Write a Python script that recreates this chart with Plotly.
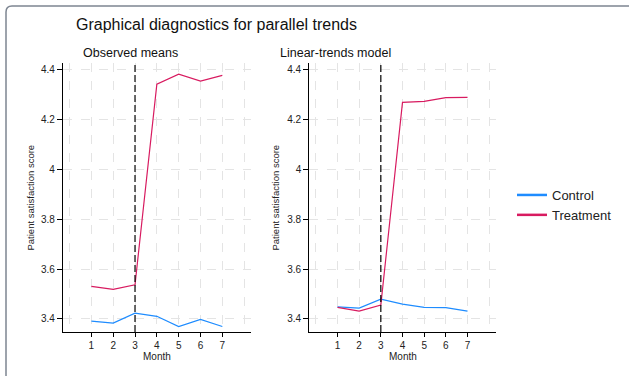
import plotly.graph_objects as go

months = [1, 2, 3, 4, 5, 6, 7]
obs_control = [3.391, 3.383, 3.423, 3.410, 3.369, 3.398, 3.369]
obs_treatment = [3.530, 3.518, 3.537, 4.343, 4.383, 4.355, 4.378]
lin_control = [3.448, 3.443, 3.479, 3.459, 3.446, 3.445, 3.431]
lin_treatment = [3.446, 3.431, 3.455, 4.270, 4.274, 4.289, 4.290]
y_tickvals = [3.4, 3.6, 3.8, 4.0, 4.2, 4.4]
y_ticktext = ["3.4", "3.6", "3.8", "4", "4.2", "4.4"]
x_ticktext = ["1", "2", "3", "4", "5", "6", "7"]
treatment_start = 3
main_title = "Graphical diagnostics for parallel trends"
panel_titles = ["Observed means", "Linear-trends model"]
series_names = ["Control", "Treatment"]

W, H = 629, 376
C_CTRL = "#1e8cff"
C_TRT = "#d81b60"
FONT = "Liberation Sans, Arial, sans-serif"
GRID = "#e4e4e4"

def px(x):
    return x / W

def py(y):
    return 1 - y / H

fig = go.Figure()

panels = [
    dict(xa="x", ya="y", ctrl=obs_control, trt=obs_treatment, dom=[63, 250.7]),
    dict(xa="x2", ya="y2", ctrl=lin_control, trt=lin_treatment, dom=[309.3, 495.7]),
]

for p in panels:
    fig.add_trace(go.Scatter(x=months, y=p["ctrl"], mode="lines", xaxis=p["xa"], yaxis=p["ya"],
                             line=dict(color=C_CTRL, width=1.2), showlegend=False, name=series_names[0]))
    fig.add_trace(go.Scatter(x=months, y=p["trt"], mode="lines", xaxis=p["xa"], yaxis=p["ya"],
                             line=dict(color=C_TRT, width=1.2), showlegend=False, name=series_names[1]))

# legend entries (thicker lines)
fig.add_trace(go.Scatter(x=[None], y=[None], mode="lines", line=dict(color=C_CTRL, width=2.5), name=series_names[0]))
fig.add_trace(go.Scatter(x=[None], y=[None], mode="lines", line=dict(color=C_TRT, width=2.5), name=series_names[1]))

ydom = [py(332), py(63)]
axis_common_x = dict(
    range=[-0.3, 8.3], tickvals=months, ticktext=x_ticktext, ticks="outside", ticklen=4,
    tickcolor="black", showline=True, linecolor="black", linewidth=1.2,
    showgrid=True, gridcolor=GRID, griddash="dash", gridwidth=1, zeroline=False,
    tickfont=dict(size=10, color="#222", family=FONT),
    minor=dict(tickvals=[0, 8], showgrid=True, gridcolor=GRID, griddash="dash", ticks=""),
    fixedrange=True,
)
axis_common_y = dict(
    range=[3.347, 4.428], tickvals=y_tickvals, ticktext=y_ticktext, ticks="outside", ticklen=5,
    tickcolor="black", showline=True, linecolor="black", linewidth=1.2,
    showgrid=True, gridcolor=GRID, griddash="dash", gridwidth=1, zeroline=False,
    tickfont=dict(size=10, color="#222", family=FONT), fixedrange=True,
)

fig.update_layout(
    xaxis=dict(domain=[px(63), px(250.7)], anchor="y", **axis_common_x),
    yaxis=dict(domain=ydom, anchor="x", **axis_common_y),
    xaxis2=dict(domain=[px(309.3), px(495.7)], anchor="y2", **axis_common_x),
    yaxis2=dict(domain=ydom, anchor="x2", **axis_common_y),
)

shapes = []
for p in panels:
    shapes.append(dict(type="line", xref=p["xa"], yref=p["ya"] + " domain", x0=treatment_start, x1=treatment_start,
                       y0=0, y1=1, line=dict(color="black", width=1.2, dash="7px,3px")))
# outer rounded frame
r = 6
path = (f"M {px(6)},{py(380)} L {px(6)},{py(6 + r)} Q {px(6)},{py(6)} {px(6 + r)},{py(6)} L {px(632)},{py(6)}")
shapes.append(dict(type="path", xref="paper", yref="paper", path=path,
                   line=dict(color="#7d8591", width=1.5)))

annotations = []
annotations.append(dict(text=panel_titles[0], x=px(130), y=py(53), xref="paper", yref="paper",
                        showarrow=False, xanchor="center", yanchor="middle",
                        font=dict(size=12.5, color="#111", family=FONT)))
annotations.append(dict(text=panel_titles[1], x=px(335), y=py(53), xref="paper", yref="paper",
                        showarrow=False, xanchor="center", yanchor="middle",
                        font=dict(size=12.5, color="#111", family=FONT)))
for xc in [157, 402.5]:
    annotations.append(dict(text="Month", x=px(xc), y=py(356), xref="paper", yref="paper",
                            showarrow=False, xanchor="center", yanchor="middle",
                            font=dict(size=10, color="#222", family=FONT)))
for xc in [30, 275]:
    annotations.append(dict(text="Patient satisfaction score", x=px(xc), y=py(197.5), xref="paper", yref="paper",
                            showarrow=False, xanchor="center", yanchor="middle", textangle=-90,
                            font=dict(size=9.5, color="#222", family=FONT)))

fig.update_layout(
    width=W, height=H, autosize=False,
    margin=dict(l=0, r=0, t=0, b=0, pad=0),
    paper_bgcolor="white", plot_bgcolor="white",
    title=dict(text=main_title, x=px(216.5), y=py(24), xref="paper", yref="paper",
               xanchor="center", yanchor="middle", font=dict(size=16, color="#111", family=FONT)),
    shapes=shapes, annotations=annotations,
    showlegend=True,
    legend=dict(x=px(512), y=py(180), xanchor="left", yanchor="top", bgcolor="rgba(0,0,0,0)",
                borderwidth=0, font=dict(size=13, color="#222", family=FONT), tracegroupgap=0),
    font=dict(family=FONT),
)

fig.write_html("out.html")
